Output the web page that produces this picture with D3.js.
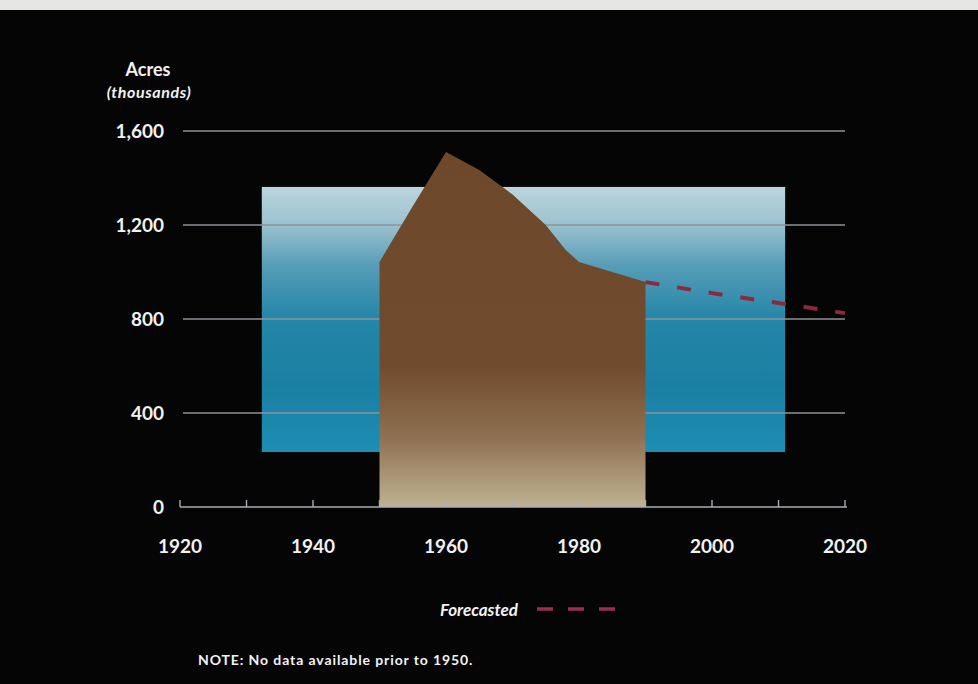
<!DOCTYPE html>
<html>
<head>
<meta charset="utf-8">
<script src="https://cdn.jsdelivr.net/npm/d3@7"></script>
<style>
html,body{margin:0;padding:0;background:#050505;}
svg{display:block;}
text{font-family:Lato,"Open Sans",sans-serif;fill:#f2f2f2;}
</style>
</head>
<body>
<svg id="chart" width="978" height="684"></svg>
<script>
// ---- data ----
const years = [1950, 1955, 1960, 1965, 1970, 1975, 1978, 1980, 1983, 1990];
const acres = [1043, 1280, 1511, 1434, 1330, 1200, 1094, 1043, 1017, 957];
const forecastYears = [1990, 2000, 2010, 2020];
const forecastAcres = [957, 910, 868, 825];
const yTicks = [0, 400, 800, 1200, 1600];
const xTickLabels = [1920, 1940, 1960, 1980, 2000, 2020];
const xMinorTicks = [1920, 1930, 1940, 1950, 1960, 1970, 1980, 1990, 2000, 2010, 2020];
const panelYears = [1932.3, 2011];   // decorative blue panel extent
const panelAcres = [234, 1362];

const svg = d3.select("#chart");
const x = d3.scaleLinear().domain([1920, 2020]).range([180, 845]);
const y = d3.scaleLinear().domain([0, 1600]).range([507, 131]);

// background + top paper strip
svg.append("rect").attr("width", 978).attr("height", 684).attr("fill", "#050505");
svg.append("rect").attr("width", 978).attr("height", 10).attr("fill", "#e6e6e4");

const defs = svg.append("defs");
const bg = defs.append("linearGradient").attr("id", "blueG")
  .attr("gradientUnits", "userSpaceOnUse")
  .attr("x1", 0).attr("x2", 0).attr("y1", y(panelAcres[1])).attr("y2", y(panelAcres[0]));
[[0, "#bcd5dc"], [0.14, "#9cc2cf"], [0.3, "#559cb7"], [0.5, "#2486a8"], [0.75, "#1a80a3"], [1, "#1d8db3"]]
  .forEach(s => bg.append("stop").attr("offset", s[0]).attr("stop-color", s[1]));

const br = defs.append("linearGradient").attr("id", "brownG")
  .attr("gradientUnits", "userSpaceOnUse")
  .attr("x1", 0).attr("x2", 0).attr("y1", y(1500)).attr("y2", y(0));
[[0, "#6e482b"], [0.6, "#714b2d"], [0.8, "#8e7051"], [1, "#bfb292"]]
  .forEach(s => br.append("stop").attr("offset", s[0]).attr("stop-color", s[1]));

// decorative blue panel
svg.append("rect")
  .attr("x", x(panelYears[0])).attr("y", y(panelAcres[1]))
  .attr("width", x(panelYears[1]) - x(panelYears[0]))
  .attr("height", y(panelAcres[0]) - y(panelAcres[1]))
  .attr("fill", "url(#blueG)");

// gridlines
svg.append("g").selectAll("line").data(yTicks.filter(d => d > 0)).join("line")
  .attr("x1", x(1920) + 3).attr("x2", x(2020))
  .attr("y1", d => y(d)).attr("y2", d => y(d))
  .attr("stroke", "#8e9399").attr("stroke-width", 1.6);

// area
const data = years.map((yr, i) => ({yr, v: acres[i]}));
const area = d3.area().x(d => x(d.yr)).y0(y(0)).y1(d => y(d.v));
svg.append("path").datum(data).attr("d", area).attr("fill", "url(#brownG)");

// forecast dashed line
const fdata = forecastYears.map((yr, i) => ({yr, v: forecastAcres[i]}));
svg.append("path").datum(fdata)
  .attr("d", d3.line().x(d => x(d.yr)).y(d => y(d.v)))
  .attr("fill", "none").attr("stroke", "#8c2a3c").attr("stroke-width", 4)
  .attr("stroke-dasharray", "14,18");

// x axis
svg.append("line").attr("x1", x(1920)).attr("x2", x(2020) + 2)
  .attr("y1", y(0)).attr("y2", y(0)).attr("stroke", "#a9adb2").attr("stroke-width", 1.6);
svg.append("g").selectAll("line").data(xMinorTicks).join("line")
  .attr("x1", d => x(d)).attr("x2", d => x(d))
  .attr("y1", y(0)).attr("y2", y(0) - 7)
  .attr("stroke", "#a9adb2").attr("stroke-width", 1.4);
svg.append("g").selectAll("text").data(xTickLabels).join("text")
  .attr("x", d => x(d)).attr("y", 553)
  .attr("text-anchor", "middle").attr("font-size", 19).attr("font-weight", "bold")
  .text(d => d);

// y labels
svg.append("g").selectAll("text").data(yTicks).join("text")
  .attr("x", 164).attr("y", d => y(d) + 7)
  .attr("text-anchor", "end").attr("font-size", 19).attr("font-weight", "bold")
  .text(d => d3.format(",")(d));

// axis title
svg.append("text").attr("x", 148).attr("y", 76).attr("text-anchor", "middle")
  .attr("font-size", 18).attr("font-weight", "bold").text("Acres");
svg.append("text").attr("x", 149).attr("y", 98).attr("text-anchor", "middle")
  .attr("font-size", 16).attr("font-weight", "bold").attr("font-style", "italic")
  .attr("letter-spacing", 0.6)
  .text("(thousands)");

// legend
svg.append("text").attr("x", 518).attr("y", 616).attr("text-anchor", "end")
  .attr("font-size", 17).attr("font-weight", "bold").attr("font-style", "italic")
  .text("Forecasted");
svg.append("line").attr("x1", 537).attr("x2", 620).attr("y1", 609).attr("y2", 609)
  .attr("stroke", "#9a2d55").attr("stroke-width", 3.5).attr("stroke-dasharray", "16,15");

// note
svg.append("text").attr("x", 198).attr("y", 665)
  .attr("font-size", 14).attr("font-weight", "bold").attr("letter-spacing", 0.9)
  .text("NOTE: No data available prior to 1950.");
</script>
</body>
</html>
